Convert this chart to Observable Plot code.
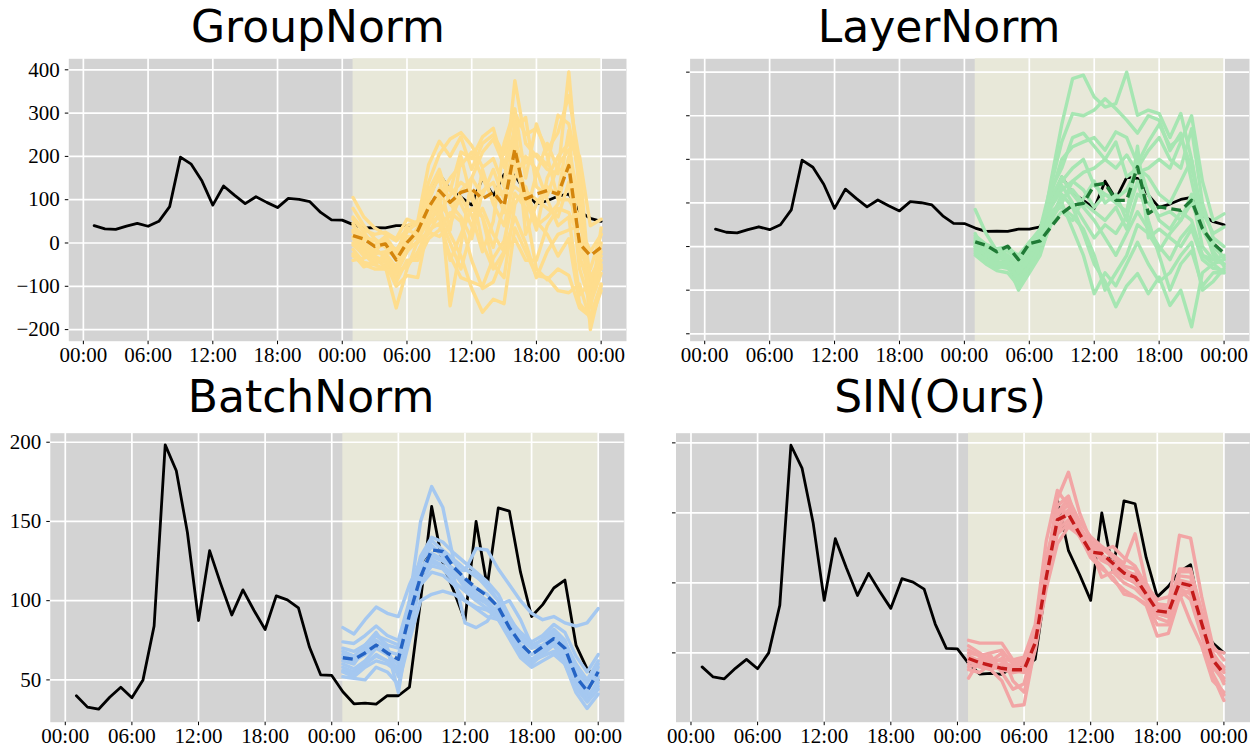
<!DOCTYPE html>
<html><head><meta charset="utf-8">
<script src="https://cdn.jsdelivr.net/npm/d3@7"></script>
<script src="https://cdn.jsdelivr.net/npm/@observablehq/plot@0.6"></script>
<style>
body{margin:0;background:#fff;}
#wrap{position:relative;width:1260px;height:749px;overflow:hidden;background:#fff;}
.ttl{position:absolute;width:600px;text-align:center;font-family:"DejaVu Sans";font-size:44px;line-height:44px;color:#000;white-space:nowrap;}
.pnl{position:absolute;}
</style></head><body><div id="wrap"></div>
<script>
// ---------- data ----------
const xTickHours = [0, 6, 12, 18, 24, 30, 36, 42, 48];
const xTickLabels = ["00:00","06:00","12:00","18:00","00:00","06:00","12:00","18:00","00:00"];
const historyHours = d3.range(1, 49);      // 01:00 day 1 .. 00:00 day 3
const forecastHours = d3.range(25, 49);    // 01:00 day 2 .. 00:00 day 3
const forecastSpan = [25, 48];
const titles = ["GroupNorm", "LayerNorm", "BatchNorm", "SIN(Ours)"];
const yTicksWide = [-200, -100, 0, 100, 200, 300, 400];
const yTicksNarrow = [50, 100, 150, 200];

const groundTruth = [40, 32.8, 31.5, 39, 45.4, 38.7, 50, 84, 198.3, 182, 143, 87.5, 131.6, 110.6, 91, 106.8, 93.8, 81.8, 103, 100.5, 95.5, 70.6, 53.2, 52.8,
  42.5, 34.9, 35.3, 34.7, 40, 40, 45.4, 100, 159.5, 123, 106, 87.5, 150, 109, 158.6, 156.5, 118, 90, 97.5, 108, 113, 72, 57, 50];

const gnMean = [17, 9, -8, -2, -39, 1, 28, 82, 121, 94, 117, 125, 102, 117, 86, 217, 102, 113, 121, 113, 179, -2, -29, -10];
const gnSamples = [
  [105, 60, 35, 20, 5, 30, 45, 140, 205, 240, 255, 225, 175, 195, 130, 375, 230, 200, 170, 160, 395, 110, -200, -95],
  [80, 40, 10, -10, -30, 25, 50, 180, 235, 200, 245, 170, 230, 250, 205, 300, 250, 265, 215, 255, 340, 190, -120, -55],
  [55, 25, -10, -35, -65, -20, 30, 95, 160, 120, 210, 195, 245, 265, 175, 225, 185, 205, 180, 295, 275, 150, -145, 35],
  [25, -15, -35, -55, -150, -60, 5, 55, 125, -145, -5, 150, 210, 240, 180, 260, 290, 130, 110, 180, 215, 95, -85, -50],
  [-30, -50, -60, -60, -80, -45, -30, 40, 90, 60, 105, 65, -20, 50, 230, 310, 150, 275, 200, 100, 100, 60, -100, -40],
  [-40, -35, -25, -20, -30, 5, 15, 50, 80, 20, -30, -105, -160, -130, -140, 35, -20, -75, -80, -110, -115, -95, -180, -110],
  [10, -20, -45, -40, -65, -55, -20, 30, 45, -30, -80, -90, -100, -35, 5, 115, 80, -60, -85, -60, -75, -150, -170, -100],
  [45, 0, -20, 10, -30, 40, 50, 60, 100, 130, 90, 40, 80, 20, -20, 200, 120, 100, 80, 60, 140, -20, -60, 20],
  [30, 10, -5, 15, -20, 30, 20, 120, 170, 90, 60, 10, 120, 140, 70, 280, 20, 90, 130, 110, 260, -30, -110, -20],
  [-15, -45, -50, -25, -55, 0, 35, 110, 150, 30, 200, 100, 60, -10, 90, 240, 60, 160, 230, 170, 170, -60, -140, -70],
  [60, 30, 20, 25, 10, 55, 45, 90, 60, 0, -60, 30, 170, 90, 40, 150, 200, 170, 100, 40, 60, -120, -90, -60],
  [0, -30, -15, 0, -40, -10, 0, 20, 70, 110, 140, 120, 0, -60, -20, 60, 0, -80, -20, 20, 30, 40, -20, 20],
  [-25, -55, -45, -30, -90, -40, -40, 10, 30, 70, 50, -40, -105, -90, -25, 10, -40, -40, 40, 80, 70, 10, -80, -30],
  [40, 15, 5, 0, -15, 15, 10, 80, 110, 150, 180, 210, 150, 100, 120, 180, 100, 40, 60, 90, 200, 80, -150, 0],
  [15, -5, -30, -45, -100, -75, -80, 45, 60, -40, 20, 80, 60, -50, -80, 90, 130, 50, 20, -30, 10, -140, -170, -95],
  [-5, -25, -50, -60, -70, -20, 5, 25, 15, 40, 120, 150, 110, 170, 100, 130, 110, 30, 150, 200, 230, 200, 40, 55]
];

const lnMean = [11, 3, -12, 1, -30, 7, 13, 45, 76, 95, 99, 141, 145, 106, 106, 183, 76, 91, 87, 83, 106, 41, 7, -15];
const lnSamples = [
  [30, -20, -40, -30, -70, -30, 10, 150, 280, 385, 393, 343, 320, 328, 400, 301, 313, 305, 250, 305, 200, 60, -20, -40],
  [10, -10, -20, -20, -40, 0, 40, 140, 240, 305, 300, 313, 339, 316, 290, 260, 300, 290, 220, 260, 150, 40, 10, -30],
  [85, 30, -10, -20, -50, -20, 30, 120, 200, 229, 240, 250, 221, 263, 250, 190, 240, 280, 230, 250, 180, 80, 30, 45],
  [-5, -30, -50, -40, -100, -60, -20, 60, 120, 90, 30, -40, -80, -138, -90, -62, -108, -70, -135, -100, -184, -60, -40, -30],
  [0, -25, -35, -45, -80, -40, 0, 80, 100, 40, -20, -108, -60, -90, -40, 10, -40, -80, -60, -20, 10, -100, -80, -50],
  [20, 0, -10, -5, -20, 10, 40, 100, 150, 180, 200, 140, 120, 100, 80, 200, 120, 60, 40, 80, 60, -20, -40, -60],
  [-20, -40, -55, -60, -90, -50, -10, 50, 80, 60, 110, 150, 100, 120, 60, 230, 20, 40, 20, 0, 40, -30, -50, -55],
  [15, -5, -15, -10, -30, 5, 30, 90, 130, 150, 170, 180, 200, 180, 210, 170, 180, 200, 180, 240, 300, 150, 60, 75],
  [5, -15, -30, -25, -55, -20, 20, 110, 160, 120, 90, 60, 20, -20, 30, 80, 40, 0, -30, 20, 50, -20, -30, -20],
  [-10, -35, -45, -50, -70, -40, 0, 70, 110, 130, 100, 80, 60, 90, 40, 120, 100, 70, 80, 60, 100, 40, -10, -45],
  [25, 5, -5, 0, -25, 10, 35, 100, 140, 100, 60, 20, 50, 30, 70, 150, 60, -20, -100, -40, -10, -90, -60, -60],
  [0, -20, -25, -30, -60, -30, 10, 80, 90, 70, 40, -20, -100, -60, -20, 50, 30, -10, 30, 60, 120, 0, -30, -40],
  [-15, -30, -40, -35, -75, -45, 0, 60, 100, 150, 130, 90, 120, 110, 130, 180, 220, 250, 200, 180, 270, 100, 20, 0],
  [10, -15, -30, -20, -45, -10, 25, 130, 180, 250, 260, 230, 200, 240, 160, 180, 160, 120, 100, 150, 200, 50, 0, -25]
];

const bnMean = [64, 63, 67, 72, 67, 63, 91, 115, 132, 131, 121, 114, 108, 103, 96, 83, 73, 66, 71, 76, 70, 52, 43, 55];
const bnSamples = [
  [58, 55, 60, 65, 62, 55, 100, 150, 172, 159, 125, 112, 105, 100, 92, 80, 68, 60, 66, 72, 60, 45, 38, 50],
  [83, 79, 88, 96, 92, 90, 110, 125, 138, 132, 126, 120, 115, 110, 100, 85, 75, 70, 76, 82, 75, 55, 48, 60],
  [62, 60, 70, 78, 72, 70, 98, 120, 128, 125, 120, 119, 133, 132, 120, 110, 100, 92, 88, 90, 86, 84, 86, 95],
  [52, 51, 50, 58, 55, 47, 75, 100, 104, 106, 104, 100, 95, 90, 88, 80, 70, 62, 65, 68, 62, 48, 40, 46],
  [68, 65, 72, 80, 70, 42, 85, 125, 135, 128, 118, 108, 102, 98, 90, 78, 65, 60, 68, 74, 66, 50, 42, 58],
  [60, 57, 62, 70, 66, 60, 92, 118, 126, 122, 115, 86, 83, 87, 97, 100, 88, 72, 70, 78, 72, 58, 50, 55],
  [74, 73, 78, 84, 78, 75, 100, 128, 140, 137, 130, 124, 118, 112, 104, 90, 78, 72, 75, 80, 74, 60, 50, 62],
  [56, 54, 60, 66, 62, 58, 88, 112, 122, 120, 112, 106, 100, 95, 88, 76, 64, 58, 62, 66, 60, 42, 32, 41],
  [64, 62, 66, 72, 68, 66, 95, 120, 130, 126, 118, 110, 104, 98, 92, 82, 72, 66, 70, 76, 70, 52, 45, 52],
  [66, 63, 68, 75, 70, 52, 90, 116, 124, 122, 116, 112, 108, 104, 96, 86, 78, 70, 72, 78, 68, 50, 38, 48],
  [55, 52, 58, 62, 60, 55, 80, 110, 118, 116, 110, 100, 96, 94, 90, 84, 70, 63, 68, 72, 64, 45, 36, 44],
  [70, 68, 72, 78, 75, 72, 96, 124, 134, 130, 124, 120, 116, 108, 100, 88, 80, 74, 78, 85, 80, 65, 55, 66]
];

const sinMean = [46, 43, 41, 39, 38, 38, 57, 104, 145, 149, 135, 122, 121, 114, 107, 104, 92, 80, 79, 100, 98, 71, 45, 35];
const sinSamples = [
  [59, 57, 57, 57, 45, 47, 70, 130, 166, 155, 135, 124, 116, 112, 108, 106, 96, 85, 84, 134, 132, 90, 55, 45],
  [50, 48, 50, 52, 42, 44, 60, 110, 160, 179, 150, 130, 125, 118, 112, 110, 95, 82, 80, 110, 110, 78, 50, 38],
  [40, 42, 38, 30, 12, 13, 55, 100, 140, 150, 140, 128, 123, 126, 118, 112, 98, 88, 90, 100, 96, 70, 40, 30],
  [32, 45, 48, 36, 24, 28, 60, 105, 145, 152, 138, 126, 120, 110, 104, 100, 90, 78, 76, 96, 92, 65, 35, 20],
  [55, 50, 44, 40, 36, 40, 62, 118, 150, 160, 144, 133, 126, 120, 114, 135, 100, 84, 82, 105, 104, 75, 48, 40],
  [46, 40, 38, 42, 40, 38, 56, 102, 138, 145, 133, 120, 112, 102, 95, 90, 84, 62, 64, 90, 95, 68, 42, 32],
  [48, 44, 42, 40, 38, 36, 58, 106, 148, 156, 140, 125, 104, 108, 100, 96, 88, 75, 72, 102, 100, 72, 45, 36],
  [42, 46, 44, 50, 30, 22, 52, 96, 128, 140, 134, 122, 118, 112, 108, 100, 92, 80, 78, 95, 88, 62, 34, 16],
  [52, 48, 46, 44, 40, 42, 64, 112, 155, 162, 138, 124, 120, 115, 110, 105, 95, 85, 82, 108, 108, 80, 52, 50],
  [44, 40, 40, 38, 36, 37, 55, 100, 135, 142, 134, 118, 110, 104, 92, 90, 85, 70, 70, 92, 72, 55, 30, 22],
  [38, 36, 42, 46, 44, 46, 60, 108, 152, 150, 136, 127, 120, 114, 104, 102, 90, 78, 76, 98, 96, 70, 45, 28]
];

// ---------- drawing ----------
const xDomain = [-1.35, 50.35];
const fmtY = v => v < 0 ? "\u2212" + Math.abs(v) : String(v);
const wrap = document.getElementById("wrap");

const panels = [
  {title: titles[0], cx: 318, ty: 5, left: 0, top: 50, w: 640, h: 320, ml: 68.3, mr: 14, mt: 8.3, mb: 29.3,
   yDomain: [-226.8, 425.4], yTicks: yTicksWide, showY: true, samples: gnSamples, mean: gnMean, sc: "#fedd8d", mc: "#d4850c"},
  {title: titles[1], cx: 939, ty: 5, left: 640, top: 50, w: 620, h: 320, ml: 49.6, mr: 11, mt: 8.3, mb: 29.3,
   yDomain: [-217, 430.6], yTicks: yTicksWide, showY: false, samples: lnSamples, mean: lnMean, sc: "#a6e6b2", mc: "#1f7a35"},
  {title: titles[2], cx: 311, ty: 375, left: 0, top: 420, w: 640, h: 329, ml: 49.8, mr: 16.2, mt: 12.7, mb: 27.3,
   yDomain: [23.3, 205.7], yTicks: yTicksNarrow, showY: true, samples: bnSamples, mean: bnMean, sc: "#a5c8f0", mc: "#2463c4"},
  {title: titles[3], cx: 940, ty: 375, left: 640, top: 420, w: 620, h: 329, ml: 35.5, mr: 10.5, mt: 12.7, mb: 27.3,
   yDomain: [0.5, 206.9], yTicks: yTicksNarrow, showY: false, samples: sinSamples, mean: sinMean, sc: "#f2a5a5", mc: "#c41a1a"}
];

for (const p of panels) {
  const truth = groundTruth.map((v, i) => ({h: historyHours[i], v}));
  const samp = p.samples.flatMap((s, k) => s.map((v, i) => ({h: forecastHours[i], v, k})));
  const mean = p.mean.map((v, i) => ({h: forecastHours[i], v}));
  const chart = Plot.plot({
    width: p.w, height: p.h,
    marginLeft: p.ml, marginRight: p.mr, marginTop: p.mt, marginBottom: p.mb,
    style: {fontFamily: "'Liberation Serif', serif", fontSize: "21px", background: "transparent", color: "black", overflow: "visible"},
    x: {domain: xDomain},
    y: {domain: p.yDomain},
    marks: [
      Plot.frame({fill: "#d3d3d3", stroke: "none"}),
      Plot.rect([{x1: forecastSpan[0], x2: forecastSpan[1]}], {x1: "x1", x2: "x2", fill: "#e8e8d9"}),
      Plot.gridX(xTickHours, {stroke: "white", strokeOpacity: 1, strokeWidth: 1.7}),
      Plot.gridY(p.yTicks, {stroke: "white", strokeOpacity: 1, strokeWidth: 1.7}),
      Plot.axisX(xTickHours, {tickFormat: d => xTickLabels[xTickHours.indexOf(d)], tickSize: 3.5, tickPadding: 2, label: null}),
      Plot.axisY(p.yTicks, {tickFormat: p.showY ? fmtY : () => "", tickSize: 3.5, tickPadding: 5.5, label: null}),
      Plot.line(truth, {x: "h", y: "v", stroke: "black", strokeWidth: 2.8}),
      Plot.line(samp, {x: "h", y: "v", z: "k", stroke: p.sc, strokeWidth: 3.4}),
      Plot.line(mean, {x: "h", y: "v", stroke: p.mc, strokeWidth: 3.4, strokeDasharray: "10,5", strokeLinecap: "butt"})
    ]
  });
  const div = document.createElement("div");
  div.className = "pnl";
  div.style.left = p.left + "px";
  div.style.top = p.top + "px";
  div.appendChild(chart);
  wrap.appendChild(div);
  const t = document.createElement("div");
  t.className = "ttl";
  t.textContent = p.title;
  t.style.left = (p.cx - 300) + "px";
  t.style.top = p.ty + "px";
  wrap.appendChild(t);
}
</script></body></html>
